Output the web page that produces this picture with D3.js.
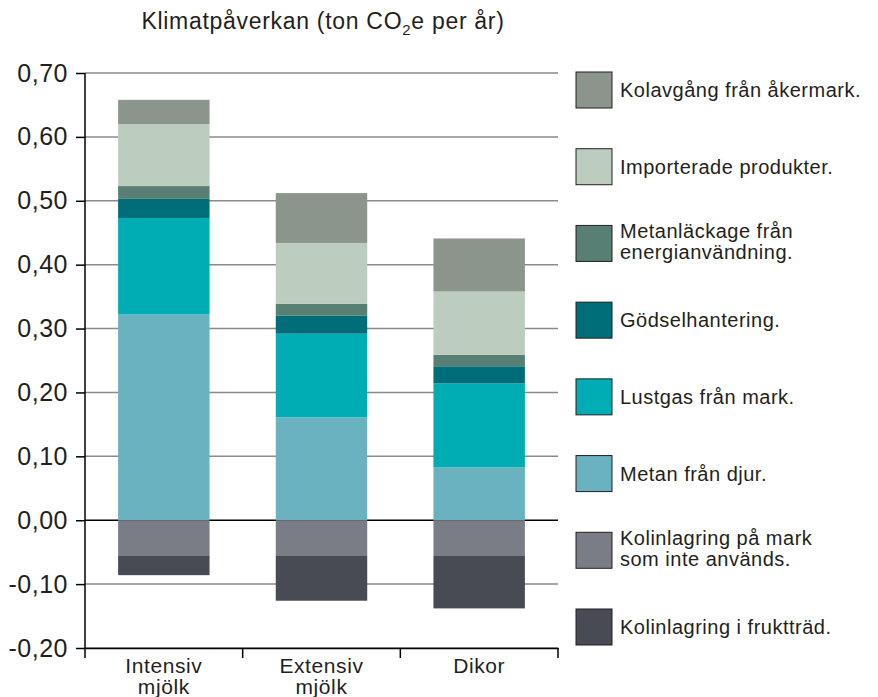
<!DOCTYPE html>
<meta charset="utf-8">
<head>
	<title>Klimatpåverkan</title>
	<script src="https://cdnjs.cloudflare.com/ajax/libs/d3/7.8.5/d3.min.js"></script>
</head>
<style type="text/css">
	body { margin: 0; background: #fff; font-family: "Liberation Sans", Arial, sans-serif; }
	text { fill: #231f20; }
	.grid line { stroke: #8a8a8a; stroke-width: 1.5; }
	.axis path, .axis line { stroke: #000; stroke-width: 1.5; }
</style>
<body>
<div id="chart"></div>
<script>
	// categories on the x axis
	var categories = ["Intensiv mjölk", "Extensiv mjölk", "Dikor"];
	var categoryLines = [["Intensiv", "mjölk"], ["Extensiv", "mjölk"], ["Dikor"]];

	// series values, one per category (ton CO2e per år)
	var metanDjur      = [0.322, 0.161, 0.083];
	var lustgas        = [0.151, 0.131, 0.131];
	var godsel         = [0.030, 0.028, 0.027];
	var metanlackage   = [0.020, 0.019, 0.018];
	var importerade    = [0.097, 0.095, 0.099];
	var kolavgang      = [0.038, 0.078, 0.083];
	var kolinlagMark   = [-0.055, -0.055, -0.056];
	var kolinlagFrukt  = [-0.031, -0.071, -0.082];

	// y tick labels
	var yTicks = [-0.2, -0.1, 0, 0.1, 0.2, 0.3, 0.4, 0.5, 0.6, 0.7];

	// series in stacking order (positives bottom-up, then negatives from zero down)
	var series = [
		{key: "metan", values: metanDjur, label: ["Metan från djur."], color: "#6bb2c1"},
		{key: "lustgas", values: lustgas, label: ["Lustgas från mark."], color: "#00adb5"},
		{key: "godsel", values: godsel, label: ["Gödselhantering."], color: "#006e78"},
		{key: "metanl", values: metanlackage, label: ["Metanläckage från", "energianvändning."], color: "#577f74"},
		{key: "import", values: importerade, label: ["Importerade produkter."], color: "#bccdbf"},
		{key: "kolav", values: kolavgang, label: ["Kolavgång från åkermark."], color: "#8c958c"},
		{key: "mark", values: kolinlagMark, label: ["Kolinlagring på mark", "som inte används."], color: "#7a7d86"},
		{key: "frukt", values: kolinlagFrukt, label: ["Kolinlagring i fruktträd."], color: "#484b54"}
	];
	var legendOrder = ["kolav", "import", "metanl", "godsel", "lustgas", "metan", "mark", "frukt"];

	var W = 878, H = 697;
	var plotLeft = 85, plotRight = 558, plotTop = 73, plotBottom = 648;

	var svg = d3.select("#chart").append("svg")
		.attr("width", W)
		.attr("height", H);

	var xScale = d3.scaleBand()
		.domain(categories)
		.range([plotLeft, plotRight]);

	var yScale = d3.scaleLinear()
		.domain([-0.2, 0.7])
		.range([plotBottom, plotTop]);

	var fmt = function(d) { return d.toFixed(2).replace(".", ","); };

	// table for the stack
	var table = categories.map(function(c, i) {
		var row = {category: c};
		series.forEach(function(s) { row[s.key] = s.values[i]; });
		return row;
	});
	var stacked = d3.stack()
		.keys(series.map(function(s) { return s.key; }))
		.offset(d3.stackOffsetDiverging)(table);

	// gridlines
	svg.append("g")
		.attr("class", "grid")
		.selectAll("line")
		.data(yTicks.filter(function(d) { return d !== 0; }))
		.enter().append("line")
		.attr("x1", plotLeft)
		.attr("x2", plotRight)
		.attr("y1", function(d) { return yScale(d); })
		.attr("y2", function(d) { return yScale(d); });

	// zero line
	svg.append("line")
		.attr("x1", plotLeft).attr("x2", plotRight)
		.attr("y1", yScale(0)).attr("y2", yScale(0))
		.attr("stroke", "#000").attr("stroke-width", 1.5);

	// bars
	var barW = xScale.bandwidth() * 0.58;
	var colorOf = {};
	series.forEach(function(s) { colorOf[s.key] = s.color; });

	svg.selectAll(".layer")
		.data(stacked)
		.enter().append("g")
		.attr("class", "layer")
		.attr("fill", function(d) { return colorOf[d.key]; })
		.selectAll("rect")
		.data(function(d) { return d; })
		.enter().append("rect")
		.attr("x", function(d) { return xScale(d.data.category) + (xScale.bandwidth() - barW) / 2; })
		.attr("width", barW)
		.attr("y", function(d) { return yScale(Math.max(d[0], d[1])); })
		.attr("height", function(d) { return Math.abs(yScale(d[0]) - yScale(d[1])); });

	// y axis
	var yAxis = svg.append("g")
		.attr("class", "axis")
		.attr("transform", "translate(" + plotLeft + ",0)")
		.call(d3.axisLeft(yScale).tickValues(yTicks).tickFormat(fmt).tickSize(9).tickSizeOuter(0).tickPadding(8));
	yAxis.selectAll("text")
		.style("font-size", "25px")
		.style("letter-spacing", "0.5px")
		.attr("font-family", "Liberation Sans, Arial, sans-serif")
		.attr("fill", "#231f20");
	yAxis.select(".domain").attr("d", "M0," + plotTop + "V" + (plotBottom + 10));

	// x axis
	var xAxis = svg.append("g")
		.attr("class", "axis")
		.attr("transform", "translate(0," + plotBottom + ")")
		.call(d3.axisBottom(xScale).tickSize(0).tickSizeOuter(0).tickFormat(""));
	xAxis.selectAll(".sep")
		.data(categories)
		.enter().append("line")
		.attr("class", "sep")
		.attr("x1", function(d) { return xScale(d) + xScale.bandwidth(); })
		.attr("x2", function(d) { return xScale(d) + xScale.bandwidth(); })
		.attr("y1", 0).attr("y2", 10);

	var xl = svg.append("g").selectAll("text")
		.data(categories)
		.enter().append("text")
		.attr("x", function(d) { return xScale(d) + xScale.bandwidth() / 2; })
		.attr("y", 673)
		.attr("text-anchor", "middle")
		.style("font-size", "21px")
		.style("letter-spacing", "0.6px");
	xl.selectAll("tspan")
		.data(function(d, i) { return categoryLines[i]; })
		.enter().append("tspan")
		.attr("x", function() { return d3.select(this.parentNode).attr("x"); })
		.attr("dy", function(d, i) { return i === 0 ? 0 : 21; })
		.text(function(d) { return d; });

	// title
	var title = svg.append("text")
		.attr("x", 323)
		.attr("y", 29)
		.attr("text-anchor", "middle")
		.style("font-size", "23px")
		.style("letter-spacing", "0.7px");
	title.append("tspan").text("Klimatpåverkan (ton CO");
	title.append("tspan").attr("dy", 6).style("font-size", "15px").text("2");
	title.append("tspan").attr("dy", -6).text("e per år)");

	// legend
	var legendItems = legendOrder.map(function(k) {
		return series.filter(function(s) { return s.key === k; })[0];
	});
	var ly = d3.scalePoint()
		.domain(legendOrder)
		.range([90, 627]);

	var lg = svg.append("g").selectAll("g")
		.data(legendItems)
		.enter().append("g")
		.attr("transform", function(d) { return "translate(576," + ly(d.key) + ")"; });
	lg.append("rect")
		.attr("x", 0).attr("y", -18)
		.attr("width", 36).attr("height", 36)
		.attr("fill", function(d) { return d.color; })
		.attr("stroke", "#231f20")
		.attr("stroke-width", 1);
	lg.append("text")
		.attr("x", 44)
		.attr("y", function(d) { return d.label.length > 1 ? -5 : 7; })
		.style("font-size", "20px")
		.style("letter-spacing", "0.5px")
		.selectAll("tspan")
		.data(function(d) { return d.label; })
		.enter().append("tspan")
		.attr("x", 44)
		.attr("dy", function(d, i) { return i === 0 ? 0 : 21; })
		.text(function(d) { return d; });
</script>
</body>
